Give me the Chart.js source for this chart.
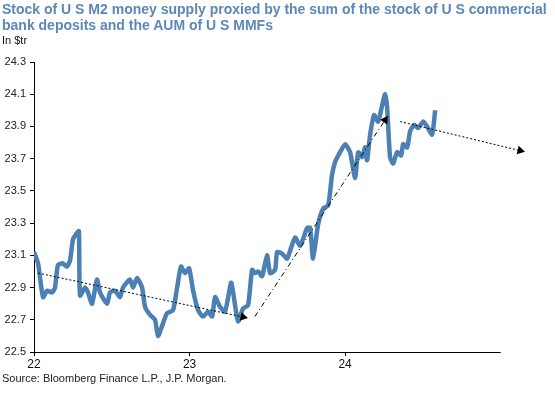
<!DOCTYPE html>
<html>
<head>
<meta charset="utf-8">
<script src="https://cdn.jsdelivr.net/npm/chart.js@4"></script>
<style>
    body { margin: 0; background: #fff; }
    #wrap { position: relative; width: 555px; height: 399px; font-family: "Liberation Sans", Arial, sans-serif; }
    #myChart { position: absolute; left: 0; top: 0; }
    .title { position: absolute; left: 2px; top: 1px; font-size: 14px; font-weight: bold; color: #5b88b8; line-height: 16px; white-space: nowrap; }
    .unit { position: absolute; left: 2px; top: 34px; font-size: 11px; color: #111; }
    .source { position: absolute; left: 2px; top: 372px; font-size: 11px; color: #222; }
</style>
</head>
<body>
<div id="wrap">
    <canvas id="myChart" width="555" height="399"></canvas>
    <div class="title">Stock of U S M2 money supply proxied by the sum of the stock of U S commercial<br>bank deposits and the AUM of U S MMFs</div>
    <div class="unit">In $tr</div>
    <div class="source">Source: Bloomberg Finance L.P., J.P. Morgan.</div>
</div>
<script>
// Dates as decimal years (22 = 2022), values in $tr
let dates = [22.000, 22.026, 22.058, 22.084, 22.116, 22.135, 22.154, 22.186, 22.212, 22.232,
    22.251, 22.277, 22.289, 22.296, 22.328, 22.347, 22.373, 22.405, 22.424, 22.469,
    22.489, 22.521, 22.553, 22.572, 22.617, 22.637, 22.662, 22.695, 22.714, 22.746,
    22.778, 22.797, 22.823, 22.855, 22.894, 22.920, 22.945, 22.971, 22.997, 23.023,
    23.055, 23.087, 23.119, 23.145, 23.164, 23.196, 23.228, 23.267, 23.280, 23.312,
    23.344, 23.376, 23.402, 23.421, 23.441, 23.466, 23.498, 23.518, 23.550, 23.563,
    23.595, 23.627, 23.678, 23.711, 23.756, 23.775, 23.794, 23.826, 23.859, 23.891,
    23.916, 23.936, 23.968, 24.000, 24.032, 24.064, 24.084, 24.109, 24.129, 24.141,
    24.161, 24.186, 24.212, 24.238, 24.257, 24.270, 24.289, 24.309, 24.334, 24.360,
    24.373, 24.399, 24.418, 24.444, 24.469, 24.502, 24.527, 24.559, 24.579];
let m2 = [23.12, 23.05, 22.84, 22.88, 22.87, 22.90, 23.04, 23.05, 23.03, 23.07,
    23.20, 23.24, 23.25, 22.85, 22.90, 22.87, 22.80, 22.95, 22.87, 22.80,
    22.87, 22.88, 22.84, 22.90, 22.95, 22.90, 22.96, 22.90, 22.78, 22.73,
    22.70, 22.60, 22.66, 22.74, 22.76, 22.90, 23.03, 22.99, 23.02, 22.88,
    22.76, 22.72, 22.75, 22.72, 22.84, 22.78, 22.75, 22.93, 22.87, 22.69,
    22.77, 22.79, 23.01, 22.99, 23.00, 22.97, 23.10, 22.99, 23.01, 23.12,
    23.11, 23.08, 23.21, 23.16, 23.27, 23.27, 23.08, 23.29, 23.39, 23.41,
    23.60, 23.68, 23.74, 23.79, 23.74, 23.58, 23.74, 23.71, 23.77, 23.69,
    23.85, 23.97, 23.93, 24.03, 24.10, 24.02, 23.71, 23.67, 23.74, 23.72,
    23.79, 23.77, 23.87, 23.91, 23.89, 23.93, 23.90, 23.85, 24.00];

// Trend arrows
let arrow1X = [22.026, 23.344];
let arrow1Y = [22.99, 22.717];
let arrow2X = [23.42, 24.257];
let arrow2Y = [22.72, 23.94];
let arrow3X = [24.354, 25.125];
let arrow3Y = [23.93, 23.75];

let yTicks = [22.5, 22.7, 22.9, 23.1, 23.3, 23.5, 23.7, 23.9, 24.1, 24.3];
let xTicks = [22, 23, 24];
let xAxisEnd = 25;

function toPoints(xs, ys) {
    return xs.map(function (x, i) { return { x: x, y: ys[i] }; });
}

// rotate the triangle head along the segment direction
function headRotation(c) {
    let d = c.dataset.data;
    let i = c.dataIndex;
    if (i === 0) return 0;
    let xs = c.chart.scales.x, ys = c.chart.scales.y;
    let dx = xs.getPixelForValue(d[i].x) - xs.getPixelForValue(d[i - 1].x);
    let dy = ys.getPixelForValue(d[i].y) - ys.getPixelForValue(d[i - 1].y);
    return Math.atan2(dy, dx) * 180 / Math.PI + 90;
}

function arrowSet(xs, ys, dash) {
    return {
        data: toPoints(xs, ys),
        borderColor: '#000',
        backgroundColor: '#000',
        borderWidth: 1,
        borderDash: dash,
        pointStyle: 'triangle',
        pointRadius: [0, 5],
        pointBorderWidth: 0,
        pointRotation: headRotation,
        clip: false,
        order: 0
    };
}

// x axis line only runs up to 25, the last arrow goes past it
const xAxisLine = {
    id: 'xAxisLine',
    afterDraw: function (chart) {
        let c = chart.ctx, xs = chart.scales.x, area = chart.chartArea;
        c.save();
        c.strokeStyle = '#000';
        c.lineWidth = 1;
        c.beginPath();
        c.moveTo(area.left, area.bottom + 0.5);
        c.lineTo(xs.getPixelForValue(xAxisEnd), area.bottom + 0.5);
        c.stroke();
        c.restore();
    }
};

document.addEventListener('DOMContentLoaded', function () {
    let ctx = document.getElementById('myChart').getContext('2d');

    let data = {
        datasets: [{
            data: toPoints(dates, m2),
            borderColor: '#4c80b5',
            borderWidth: 4.5,
            pointRadius: 0,
            tension: 0.2,
            order: 1
        },
        arrowSet(arrow1X, arrow1Y, [2, 2]),
        arrowSet(arrow2X, arrow2Y, [5, 3, 1, 3]),
        arrowSet(arrow3X, arrow3Y, [2, 2])]
    };

    let options = {
        responsive: false,
        animation: false,
        layout: { padding: { top: 62, left: 0, right: 31, bottom: 0 } },
        plugins: { legend: { display: false }, tooltip: { enabled: false } },
        scales: {
            x: {
                type: 'linear',
                min: 22,
                max: 25.15,
                afterFit: function (s) { s.height = 47; },
                afterBuildTicks: function (s) { s.ticks = xTicks.map(function (v) { return { value: v }; }); },
                grid: { drawOnChartArea: false, tickLength: 4, color: '#000' },
                border: { display: false },
                ticks: {
                    padding: 1,
                    maxRotation: 0,
                    color: '#111',
                    font: { family: 'Liberation Sans', size: 12 },
                    callback: function (v) { return String(v); }
                }
            },
            y: {
                min: 22.5,
                max: 24.3,
                afterFit: function (s) { s.width = 34; },
                afterBuildTicks: function (s) { s.ticks = yTicks.map(function (v) { return { value: v }; }); },
                grid: { drawOnChartArea: false, tickLength: 4, color: '#000' },
                border: { color: '#000', width: 1 },
                ticks: {
                    padding: 4,
                    color: '#222',
                    font: { family: 'Liberation Sans', size: 11 },
                    callback: function (v) { return v.toFixed(1); }
                }
            }
        }
    };

    new Chart(ctx, {
        type: 'line',
        data: data,
        options: options,
        plugins: [xAxisLine]
    });
});
</script>
</body>
</html>
